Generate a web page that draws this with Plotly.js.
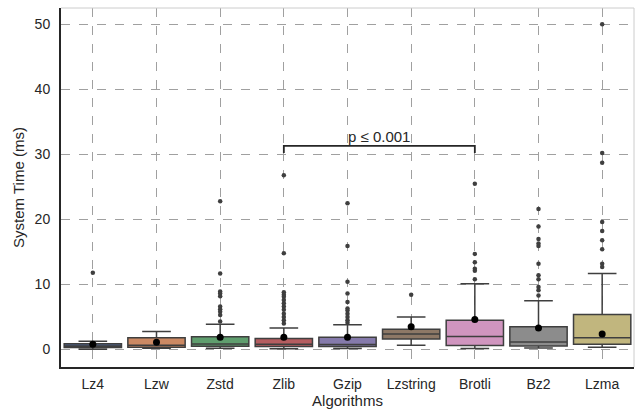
<!DOCTYPE html>
<html>
<head>
<meta charset="utf-8">
<script src="https://cdn.plot.ly/plotly-3.0.1.min.js"></script>
<style>html,body{margin:0;padding:0;background:#fff;}#chart{width:642px;height:409px;}</style>
</head>
<body>
<div id="chart"></div>
<script>
const categories = ["Lz4","Lzw","Zstd","Zlib","Gzip","Lzstring","Brotli","Bz2","Lzma"];
const q1Values     = [0.3, 0.35, 0.5, 0.45, 0.45, 1.6, 0.6, 0.55, 0.8];
const medianValues = [0.55, 0.65, 0.85, 0.8, 0.75, 2.4, 2.0, 1.15, 1.8];
const q3Values     = [0.9, 1.8, 1.95, 1.7, 1.9, 3.1, 4.5, 3.5, 5.4];
const lowerWhisker = [0.05, 0.2, 0.2, 0.1, 0.15, 0.65, 0.15, 0.25, 0.35];
const upperWhisker = [1.25, 2.75, 3.9, 3.3, 3.8, 5.0, 10.1, 7.5, 11.7];
const meanValues   = [0.8, 1.1, 1.9, 1.9, 1.9, 3.5, 4.6, 3.3, 2.4];
const outlierValues = [
  [11.8],
  [],
  [22.8, 11.7, 8.9, 8.6, 8.2, 6.6, 6.2, 5.8, 5.3, 4.3],
  [26.8, 14.8, 8.8, 8.4, 8.1, 7.6, 7.1, 6.6, 6.1, 5.5, 5.0, 4.5, 4.0],
  [22.5, 15.9, 10.4, 8.6, 7.3, 6.3, 6.0, 5.5, 5.0, 4.5, 4.1],
  [8.4],
  [25.5, 14.7, 13.4, 12.4, 12.1, 10.8],
  [21.6, 18.9, 17.0, 16.3, 15.9, 13.2, 11.4, 10.8, 9.6, 9.1, 8.3],
  [50.0, 30.2, 28.7, 19.6, 18.2, 16.8, 15.4, 13.2, 12.7]
];
const boxColors = ["#4f6590","#cc8963","#5f9e6e","#b55d60","#857aab","#8d7866","#d095bf","#8c8c8c","#c1b67e"];
const yTicks = [0, 10, 20, 30, 40, 50];
const bracketFrom = "Zlib", bracketTo = "Brotli", bracketY = 31.3, bracketDrop = 1.1;
const bracketLabel = "p ≤ 0.001";

const edge = "#3f3f3f";
const traces = [];
categories.forEach((c, i) => {
  traces.push({
    type: "box", x: [c], q1: [q1Values[i]], median: [medianValues[i]], q3: [q3Values[i]],
    lowerfence: [lowerWhisker[i]], upperfence: [upperWhisker[i]],
    boxpoints: false, width: 0.9, whiskerwidth: 0.5,
    fillcolor: boxColors[i], line: {color: edge, width: 1.5},
    showlegend: false, hoverinfo: "skip"
  });
});
const ox = [], oy = [];
categories.forEach((c, i) => outlierValues[i].forEach(v => { ox.push(c); oy.push(v); }));
traces.push({type: "scatter", mode: "markers", x: ox, y: oy,
  marker: {color: edge, size: 4.5}, showlegend: false, hoverinfo: "skip"});
traces.push({type: "scatter", mode: "markers", x: categories, y: meanValues,
  marker: {color: "#000", size: 7}, showlegend: false, hoverinfo: "skip"});

const i0 = categories.indexOf(bracketFrom), i1 = categories.indexOf(bracketTo);
const layout = {
  width: 642, height: 409,
  margin: {l: 61, r: 8, t: 8, b: 42},
  paper_bgcolor: "#fff", plot_bgcolor: "#fff",
  font: {family: "Liberation Sans, Arial, sans-serif", color: "#262626", size: 14},
  boxmode: "overlay",
  xaxis: {
    type: "category", categoryarray: categories, range: [-0.5, categories.length - 0.5],
    showgrid: true, gridcolor: "#a0a0a0", griddash: "dash", gridwidth: 1,
    showline: true, linecolor: "#262626", linewidth: 2,
    ticks: "outside", ticklen: 3, tickcolor: "rgba(0,0,0,0)",
    tickfont: {size: 14},
    title: {text: "Algorithms", font: {size: 15}, standoff: 2},
    zeroline: false
  },
  yaxis: {
    range: [-2.69, 52.5], tickvals: yTicks,
    showgrid: true, gridcolor: "#a0a0a0", griddash: "dash", gridwidth: 1,
    showline: true, linecolor: "#262626", linewidth: 2,
    ticks: "outside", ticklen: 6, tickcolor: "rgba(0,0,0,0)",
    tickfont: {size: 14},
    title: {text: "System Time (ms)", font: {size: 15}, standoff: 6},
    zeroline: false
  },
  shapes: [
    {type: "line", xref: "paper", yref: "paper", x0: 0, x1: 1, y0: 1, y1: 1, line: {color: "#cccccc", width: 1}},
    {type: "line", xref: "paper", yref: "paper", x0: 1, x1: 1, y0: 0, y1: 1, line: {color: "#cccccc", width: 1}},
    {type: "path", xref: "x", yref: "y",
     path: `M ${i0} ${bracketY - bracketDrop} L ${i0} ${bracketY} L ${i1} ${bracketY} L ${i1} ${bracketY - bracketDrop}`,
     line: {color: "#262626", width: 1.8}}
  ],
  annotations: [
    {x: (i0 + i1) / 2, y: bracketY, xref: "x", yref: "y", text: bracketLabel, showarrow: false,
     yanchor: "bottom", yshift: -1, font: {size: 15, color: "#262626"}}
  ]
};
Plotly.newPlot("chart", traces, layout, {displayModeBar: false, staticPlot: true});
</script>
</body>
</html>
